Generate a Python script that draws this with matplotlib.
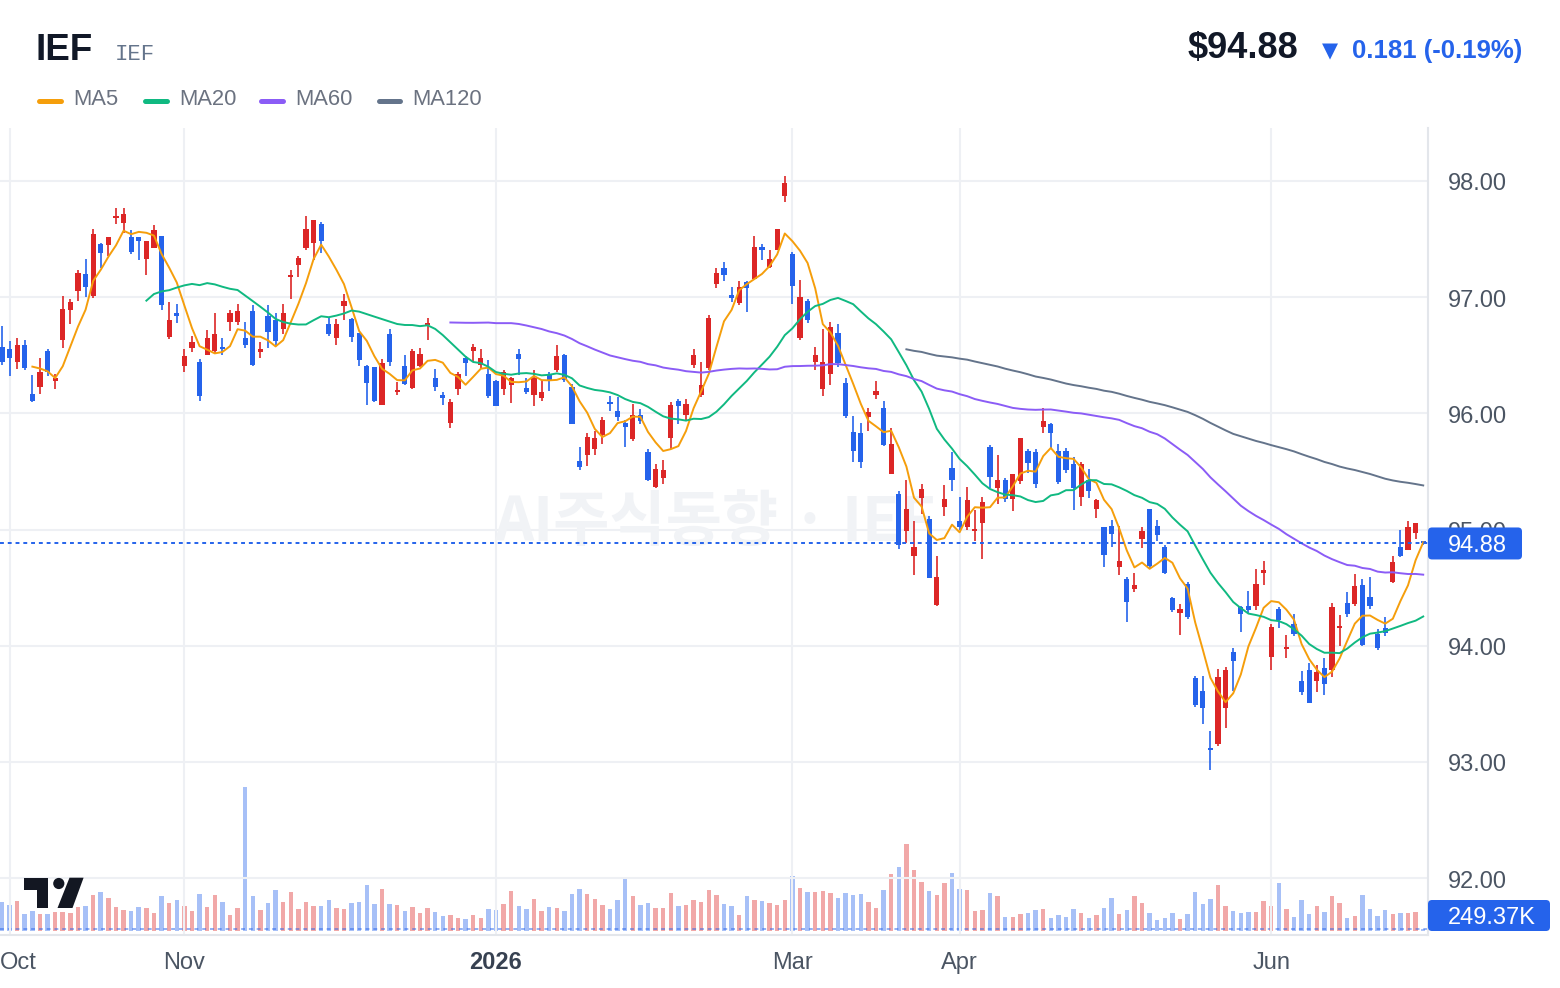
import numpy as np
import pandas as pd
import matplotlib
matplotlib.use("Agg")
import matplotlib.pyplot as plt
from matplotlib.patches import FancyBboxPatch, Polygon, Circle
from matplotlib.lines import Line2D
from matplotlib import transforms

# daily OHLC, trading-day index 0 = 2025-09-30
opens = [96.57, 96.55, 96.44, 96.59, 96.17, 96.23, 96.54, 96.28, 96.63, 96.89,
         97.05, 97.20, 97.01, 97.46, 97.45, 97.68, 97.64, 97.52, 97.52, 97.33,
         97.42, 97.53, 96.66, 96.86, 96.41, 96.56, 96.44, 96.50, 96.54, 96.56,
         96.79, 96.79, 96.65, 96.88, 96.53, 96.84, 96.80, 96.73, 97.17, 97.28,
         97.42, 97.47, 97.63, 96.77, 96.65, 96.92, 96.81, 96.69, 96.41, 96.40,
         96.07, 96.68, 96.18, 96.41, 96.22, 96.41, 96.76, 96.30, 96.16, 95.92,
         96.21, 96.48, 96.54, 96.42, 96.34, 96.28, 96.21, 96.24, 96.51, 96.22,
         96.16, 96.13, 96.34, 96.37, 96.50, 96.23, 95.59, 95.64, 95.69, 95.81,
         96.10, 96.02, 95.92, 95.78, 95.99, 95.67, 95.37, 95.44, 95.79, 96.11,
         95.99, 96.42, 96.16, 96.39, 97.11, 97.25, 97.02, 96.95, 97.13, 97.16,
         97.43, 97.26, 97.41, 97.87, 97.37, 96.65, 96.97, 96.44, 96.21, 96.34,
         96.69, 96.26, 95.84, 95.83, 95.97, 96.16, 96.05, 95.48, 95.31, 94.99,
         94.77, 95.27, 95.09, 94.35, 95.19, 95.53, 95.07, 95.02, 94.99, 95.06,
         95.71, 95.36, 95.43, 95.26, 95.42, 95.68, 95.67, 95.88, 95.91, 95.68,
         95.68, 95.56, 95.28, 95.43, 95.18, 95.02, 95.03, 94.68, 94.57, 94.49,
         94.92, 95.18, 95.03, 94.85, 94.41, 94.28, 94.53, 93.72, 93.61, 93.12,
         93.15, 93.46, 93.95, 94.33, 94.34, 94.34, 94.63, 93.90, 94.32, 93.97,
         94.19, 93.70, 93.79, 93.70, 93.81, 93.79, 94.15, 94.37, 94.36, 94.52,
         94.42, 94.10, 94.15, 94.55, 94.85, 94.82, 94.97, 94.89]
highs = [96.75, 96.62, 96.65, 96.63, 96.33, 96.48, 96.55, 96.34, 97.01, 96.98,
         97.23, 97.33, 97.59, 97.47, 97.52, 97.77, 97.77, 97.58, 97.52, 97.48,
         97.62, 97.53, 96.96, 96.94, 96.55, 96.67, 96.47, 96.72, 96.86, 96.65,
         96.89, 96.94, 96.79, 96.93, 96.61, 96.93, 96.86, 96.94, 97.23, 97.35,
         97.70, 97.66, 97.65, 96.83, 96.81, 97.03, 96.82, 96.69, 96.42, 96.40,
         96.47, 96.73, 96.27, 96.50, 96.55, 96.56, 96.82, 96.38, 96.18, 96.12,
         96.36, 96.49, 96.60, 96.55, 96.46, 96.29, 96.37, 96.31, 96.55, 96.30,
         96.37, 96.29, 96.36, 96.59, 96.51, 96.25, 95.71, 95.83, 95.85, 95.97,
         96.15, 96.14, 95.94, 96.08, 96.04, 95.69, 95.56, 95.60, 96.10, 96.12,
         96.12, 96.55, 96.44, 96.85, 97.25, 97.30, 97.09, 97.14, 97.14, 97.53,
         97.46, 97.41, 97.59, 98.04, 97.39, 97.15, 96.98, 96.57, 96.73, 96.79,
         96.77, 96.30, 95.98, 95.92, 96.05, 96.28, 96.11, 95.87, 95.33, 95.43,
         95.07, 95.39, 95.12, 94.77, 95.38, 95.67, 95.28, 95.37, 95.17, 95.28,
         95.73, 95.64, 95.44, 95.48, 95.79, 95.69, 95.69, 96.05, 95.92, 95.74,
         95.70, 95.62, 95.58, 95.52, 95.26, 95.02, 95.08, 95.03, 94.59, 94.63,
         95.02, 95.18, 95.08, 94.87, 94.42, 94.36, 94.55, 93.74, 93.74, 93.27,
         93.80, 93.82, 93.98, 94.34, 94.47, 94.66, 94.73, 94.19, 94.33, 94.09,
         94.27, 93.78, 93.85, 93.83, 93.89, 94.37, 94.26, 94.46, 94.62, 94.57,
         94.59, 94.14, 94.25, 94.77, 95.00, 95.07, 95.06, 94.90]
lows = [96.42, 96.32, 96.38, 96.37, 96.10, 96.17, 96.32, 96.21, 96.56, 96.77,
        96.97, 97.00, 96.99, 97.25, 97.35, 97.63, 97.55, 97.37, 97.32, 97.19,
        97.42, 96.89, 96.64, 96.78, 96.36, 96.53, 96.11, 96.50, 96.51, 96.50,
        96.71, 96.76, 96.56, 96.41, 96.48, 96.56, 96.59, 96.68, 96.98, 97.17,
        97.41, 97.32, 97.38, 96.67, 96.59, 96.80, 96.61, 96.41, 96.07, 96.10,
        96.07, 96.41, 96.16, 96.24, 96.21, 96.40, 96.63, 96.19, 96.07, 95.87,
        96.16, 96.32, 96.44, 96.39, 96.13, 96.06, 96.16, 96.09, 96.33, 96.17,
        96.06, 96.11, 96.19, 96.36, 96.27, 95.91, 95.51, 95.55, 95.64, 95.74,
        96.02, 95.93, 95.71, 95.76, 95.91, 95.42, 95.36, 95.39, 95.69, 95.91,
        95.93, 96.39, 96.14, 96.37, 97.08, 97.14, 96.96, 96.93, 96.87, 97.16,
        97.32, 97.25, 97.41, 97.82, 96.94, 96.63, 96.78, 96.37, 96.15, 96.24,
        96.40, 95.96, 95.58, 95.53, 95.85, 96.12, 95.72, 95.48, 94.83, 94.88,
        94.61, 95.13, 94.58, 94.34, 95.12, 95.33, 95.00, 95.00, 94.90, 94.75,
        95.36, 95.22, 95.24, 95.16, 95.39, 95.49, 95.36, 95.83, 95.69, 95.39,
        95.49, 95.17, 95.20, 95.27, 95.10, 94.68, 94.85, 94.61, 94.20, 94.46,
        94.84, 94.67, 94.90, 94.62, 94.29, 94.09, 94.23, 93.47, 93.33, 92.93,
        93.14, 93.29, 93.61, 94.12, 94.28, 94.31, 94.52, 93.79, 94.15, 93.89,
        94.08, 93.58, 93.51, 93.60, 93.58, 93.73, 94.00, 94.25, 94.34, 94.00,
        94.32, 93.96, 94.08, 94.54, 94.76, 94.82, 94.92, 94.87]
closes = [96.44, 96.48, 96.59, 96.39, 96.11, 96.36, 96.36, 96.30, 96.90, 96.96,
          97.21, 97.09, 97.54, 97.38, 97.52, 97.70, 97.72, 97.39, 97.48, 97.48,
          97.58, 96.93, 96.80, 96.84, 96.49, 96.61, 96.15, 96.65, 96.68, 96.55,
          96.86, 96.88, 96.59, 96.42, 96.55, 96.70, 96.62, 96.86, 97.19, 97.34,
          97.59, 97.66, 97.48, 96.68, 96.77, 96.97, 96.66, 96.46, 96.26, 96.11,
          96.43, 96.44, 96.19, 96.25, 96.54, 96.51, 96.77, 96.23, 96.13, 96.10,
          96.34, 96.43, 96.57, 96.48, 96.15, 96.06, 96.36, 96.30, 96.47, 96.18,
          96.30, 96.18, 96.29, 96.49, 96.29, 95.91, 95.54, 95.80, 95.79, 95.94,
          96.08, 95.97, 95.88, 95.99, 95.93, 95.43, 95.52, 95.51, 96.07, 96.06,
          96.08, 96.50, 96.24, 96.82, 97.21, 97.19, 96.99, 97.09, 97.08, 97.43,
          97.41, 97.33, 97.59, 97.98, 97.10, 97.00, 96.80, 96.50, 96.44, 96.74,
          96.43, 95.98, 95.68, 95.58, 96.01, 96.19, 95.73, 95.74, 94.87, 95.18,
          94.85, 95.35, 94.58, 94.59, 95.26, 95.43, 95.02, 95.25, 95.00, 95.24,
          95.45, 95.43, 95.26, 95.48, 95.79, 95.57, 95.39, 95.93, 95.83, 95.41,
          95.51, 95.36, 95.56, 95.33, 95.25, 94.78, 94.96, 94.73, 94.38, 94.52,
          94.99, 94.69, 94.95, 94.63, 94.31, 94.32, 94.25, 93.49, 93.46, 93.10,
          93.73, 93.79, 93.87, 94.27, 94.31, 94.53, 94.65, 94.16, 94.22, 93.99,
          94.10, 93.60, 93.51, 93.77, 93.67, 94.33, 94.17, 94.27, 94.51, 94.01,
          94.34, 93.98, 94.11, 94.72, 94.77, 95.02, 95.06, 94.88]
# volume in millions of shares
volume_m = [4.3, 3.85, 4.45, 2.5, 2.9, 2.5, 2.5, 2.8, 2.8, 2.65,
            3.55, 3.7, 5.35, 5.8, 4.9, 3.55, 3.1, 2.95, 3.55, 3.4,
            2.65, 5.2, 4.15, 4.6, 3.7, 2.95, 5.5, 3.55, 5.35, 4.3,
            2.35, 3.4, 21.6, 5.2, 3.1, 4.15, 6.1, 4.3, 5.8, 3.25,
            4.3, 3.7, 3.7, 4.6, 3.4, 3.25, 4.15, 4.3, 6.85, 4.0,
            6.25, 4.0, 3.85, 2.95, 3.55, 2.65, 3.4, 2.8, 2.2, 2.35,
            1.9, 1.75, 2.35, 1.9, 3.25, 3.1, 4.0, 5.95, 3.7, 3.25,
            4.75, 2.95, 3.55, 3.4, 2.95, 5.5, 6.25, 5.5, 4.75, 3.85,
            3.25, 4.6, 7.9, 5.2, 3.85, 4.15, 3.4, 3.4, 5.65, 3.7,
            3.85, 4.6, 4.3, 6.1, 5.35, 4.0, 3.7, 2.35, 5.2, 4.6,
            4.45, 4.15, 3.85, 4.6, 8.2, 6.4, 5.8, 5.8, 5.95, 5.65,
            4.9, 5.65, 5.35, 5.5, 4.3, 3.4, 6.1, 8.5, 9.55, 13.0,
            9.1, 7.3, 5.95, 5.35, 7.15, 8.65, 6.25, 6.1, 2.95, 3.1,
            5.65, 5.2, 2.05, 2.05, 2.5, 2.65, 3.1, 3.25, 1.9, 2.35,
            2.05, 3.25, 2.65, 1.9, 2.35, 3.4, 4.9, 2.5, 3.1, 5.2,
            4.15, 2.65, 1.6, 1.9, 2.65, 1.75, 2.5, 5.8, 4.0, 4.75,
            6.85, 3.7, 2.95, 2.65, 2.8, 2.8, 4.45, 3.7, 7.15, 3.25,
            2.05, 4.6, 2.5, 3.7, 2.8, 5.2, 4.15, 1.9, 2.2, 5.35,
            3.25, 2.2, 3.1, 2.5, 2.65, 2.65, 2.8, 0.249]

month_pos = [1, 24, 65, 104, 126, 167]
month_labels = ["Oct", "Nov", "2026", "Mar", "Apr", "Jun"]
price_ticks = [92, 93, 94, 95, 96, 97, 98]
ma_periods = [5, 20, 60, 120]
ma_colors = ["#f59e0b", "#10b981", "#8b5cf6", "#64748b"]
ticker = "IEF"
last_price = 94.88
change = -0.181
change_pct = -0.19
last_volume = "249.37K"

RED = "#dc2626"
BLUE = "#2563eb"
GRID = "#eef0f4"
W, H = 1560, 988

plt.rcParams['font.family'] = ['Liberation Sans', 'DejaVu Sans']
fig = plt.figure(figsize=(W / 100, H / 100), dpi=100)


def fx(x):
    return x / W


def fy(y):
    return 1 - y / H


rect = [0, fy(935), fx(1428), fy(128) - fy(935)]
axv = fig.add_axes(rect)
ax = fig.add_axes(rect, sharex=axv)
ax.patch.set_visible(False)

x = np.arange(len(closes))
o = np.array(opens)
c = np.array(closes)
col = np.where(c >= o, RED, BLUE)

ax.set_xlim(-0.26, 187.63)
ax.set_ylim(91.51, 98.456)
axv.set_ylim(-0.645, 120.4)

for a in (ax, axv):
    a.set_xticks([])
    a.set_yticks([])
    for s in a.spines.values():
        s.set_visible(False)
ax.spines['right'].set_visible(True)
ax.spines['right'].set_color('#e3e6eb')
ax.spines['right'].set_linewidth(1.5)
ax.spines['bottom'].set_visible(True)
ax.spines['bottom'].set_color('#e3e6eb')
ax.spines['bottom'].set_linewidth(1.5)

# grid
for p in price_ticks:
    ax.axhline(p, color=GRID, lw=1.5, zorder=0)
for m in month_pos:
    ax.axvline(m, color=GRID, lw=1.5, zorder=0)

# volume
axv.bar(x, volume_m, width=0.6, color=col, alpha=0.4, linewidth=0)
axv.axhline(volume_m[-1], color=BLUE, alpha=0.5, lw=1.4, ls=(0, (2, 2)))

# watermark
ax.text(fx(715), fy(523), "AI주식동향 · IEF", transform=fig.transFigure,
        ha='center', va='center', fontsize=44, fontweight='bold',
        color='#f1f3f6', family=['Noto Sans CJK KR', 'DejaVu Sans'], zorder=1)

# candles
ax.vlines(x, lows, highs, colors=col, lw=1.2, zorder=3)
body_h = np.maximum(np.abs(c - o), 0.018)
ax.bar(x, body_h, bottom=np.minimum(o, c), width=0.68, color=col,
       linewidth=0, zorder=4)

# moving averages
cs = pd.Series(closes)
for n, mc in zip(ma_periods, ma_colors):
    ax.plot(x, cs.rolling(n).mean(), color=mc, lw=1.4, zorder=5)

# last price line
ax.axhline(last_price, color=BLUE, lw=1.4, ls=(0, (2, 2)), zorder=6)

# price axis labels on the right
for p in price_ticks:
    tr = transforms.offset_copy(ax.get_yaxis_transform(), fig=fig, x=20, y=-9.5, units='dots')
    ax.text(1.0, p, f"{p:.2f}", transform=tr, ha='left', va='baseline',
            fontsize=17, color='#4b5563', clip_on=False)

# month labels
for m, lab in zip(month_pos, month_labels):
    bold = lab.isdigit()
    kw = dict(fontsize=17, va='baseline',
              color='#374151' if bold else '#4b5563',
              fontweight='bold' if bold else 'normal')
    if m == month_pos[0]:
        ax.text(0.0, -0.0425, lab, transform=ax.transAxes, ha='left', **kw)
    else:
        ax.text(m, -0.0425, lab, transform=ax.get_xaxis_transform(), ha='center', **kw)

# price tag
ident = transforms.IdentityTransform()
yd = ax.transData.transform((0, last_price))[1]
tag = FancyBboxPatch((1428, yd - 16), 94, 32, boxstyle="round,pad=0,rounding_size=4",
                     facecolor=BLUE, edgecolor='none', transform=ident)
fig.add_artist(tag)
fig.text(fx(1448), (yd - 8.5) / H, f"{last_price:.2f}", color='white',
         fontsize=17, ha='left', va='baseline')

# volume tag
vtag = FancyBboxPatch((1428, H - 931), 122, 31, boxstyle="round,pad=0,rounding_size=4",
                      facecolor=BLUE, edgecolor='none', transform=ident)
fig.add_artist(vtag)
fig.text(fx(1448), fy(924), last_volume, color='white', fontsize=17,
         ha='left', va='baseline')

# header
fig.text(fx(36), fy(60.5), ticker, fontsize=26.5, fontweight='bold',
         color='#111827', va='baseline')
fig.text(fx(115), fy(59.5), ticker, fontsize=16, color='#64748b',
         family=['Liberation Mono', 'DejaVu Sans Mono'], va='baseline')
fig.text(fx(1298), fy(57.7), f"${last_price:.2f}", fontsize=26, fontweight='bold',
         color='#111827', ha='right', va='baseline')
fig.text(fx(1522), fy(57.7), f"{abs(change):.3f} ({change_pct:.2f}%)",
         fontsize=18.5, fontweight='bold', color=BLUE, ha='right', va='baseline')
fig.text(fx(1322), fy(57.7), "▼", fontsize=15, color=BLUE, ha='left',
         va='baseline', family=['DejaVu Sans'])

# legend
leg_x = [36.7, 142.7, 258.3, 376]
for lx, n, mc in zip(leg_x, ma_periods, ma_colors):
    fig.add_artist(Line2D([fx(lx + 2.5), fx(lx + 24.5)], [fy(100.7), fy(100.7)],
                          color=mc, lw=3.6, solid_capstyle='round'))
    fig.text(fx(lx + 36.5), fy(105), f"MA{n}", fontsize=15.8, color='#6b7280',
             va='baseline')

# TradingView style logo
logo_col = '#131722'
fig.add_artist(Polygon([(23.9, H - 877.7), (48.2, H - 877.7), (48.2, H - 908),
                        (36.7, H - 908), (36.7, H - 890), (23.9, H - 890)],
                       closed=True, facecolor=logo_col, edgecolor='none', transform=ident))
fig.add_artist(Circle((58.8, H - 883.5), 5.6, facecolor=logo_col, edgecolor='none',
                      transform=ident))
fig.add_artist(Polygon([(69.5, H - 877.7), (83.6, H - 877.7), (72.5, H - 908),
                        (57.5, H - 908)], closed=True, facecolor=logo_col,
                       edgecolor='none', transform=ident))

fig.savefig("out.png", dpi=100)
